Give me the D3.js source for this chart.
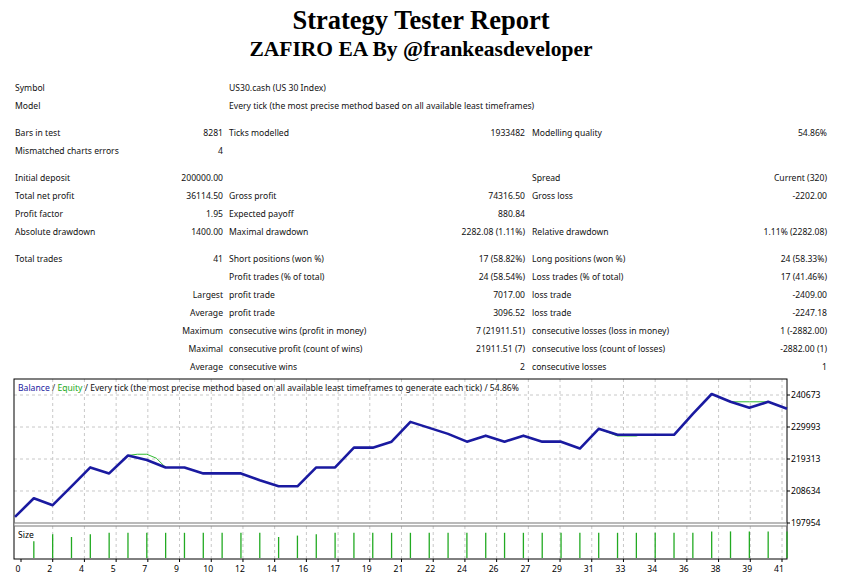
<!DOCTYPE html>
<html><head><meta charset="utf-8">
<script src="https://cdn.jsdelivr.net/npm/d3@7"></script>
<style>body{margin:0;background:#fff}</style>
</head><body>
<svg id="c" width="844" height="582"></svg>
<script>
// report rows: [y, label1, value1, label2, value2, label3, value3]
const reportRows = [
  [88, "Symbol", "", "US30.cash (US 30 Index)", "", "", ""],
  [106, "Model", "", "Every tick (the most precise method based on all available least timeframes)", "", "", ""],
  [133, "Bars in test", "8281", "Ticks modelled", "1933482", "Modelling quality", "54.86%"],
  [151, "Mismatched charts errors", "4", "", "", "", ""],
  [178, "Initial deposit", "200000.00", "", "", "Spread", "Current (320)"],
  [196, "Total net profit", "36114.50", "Gross profit", "74316.50", "Gross loss", "-2202.00"],
  [214, "Profit factor", "1.95", "Expected payoff", "880.84", "", ""],
  [232, "Absolute drawdown", "1400.00", "Maximal drawdown", "2282.08 (1.11%)", "Relative drawdown", "1.11% (2282.08)"],
  [259, "Total trades", "41", "Short positions (won %)", "17 (58.82%)", "Long positions (won %)", "24 (58.33%)"],
  [277, "", "", "Profit trades (% of total)", "24 (58.54%)", "Loss trades (% of total)", "17 (41.46%)"],
  [295, "", "Largest", "profit trade", "7017.00", "loss trade", "-2409.00"],
  [313, "", "Average", "profit trade", "3096.52", "loss trade", "-2247.18"],
  [331, "", "Maximum", "consecutive wins (profit in money)", "7 (21911.51)", "consecutive losses (loss in money)", "1 (-2882.00)"],
  [349, "", "Maximal", "consecutive profit (count of wins)", "21911.51 (7)", "consecutive loss (count of losses)", "-2882.00 (1)"],
  [367, "", "Average", "consecutive wins", "2", "consecutive losses", "1"]
];

// balance after each trade (0 = initial deposit)
const balance = [200000, 206200, 203900, 210200, 216500, 214500, 220500, 219000, 216500, 216500,
  214500, 214500, 214500, 212200, 210200, 210200, 216500, 216500, 223100, 223100,
  225100, 231700, 229700, 227700, 225100, 227100, 225100, 227100, 225100, 225100,
  222800, 229400, 227400, 227400, 227400, 227400, 234400, 241000, 238400, 236400,
  238400, 236114.5];
// equity where it differs from balance: [trade position, value]
const equity = [[6, 220500], [6.5, 220900], [7, 220900], [7.5, 219600], [8, 216500],
  [31, 229400], [32, 227000], [33, 227000], [33.2, 227400],
  [37, 241000], [38, 238400], [39, 238400], [40, 238400], [41, 236114.5]];
// lot sizes per trade 1..41
const sizes = [0.6, 0.85, 0.75, 0.85, 0.9, 0.9, 0.9, 0.9, 0.9, 0.9, 0.9, 0.9, 0.9, 0.75, 0.8, 0.85,
  0.9, 0.9, 0.9, 0.9, 0.9, 0.9, 0.9, 0.9, 0.9, 0.9, 0.9, 0.9, 0.9, 0.9, 0.9, 0.9, 0.9, 0.9, 0.9,
  0.9, 0.95, 0.95, 0.95, 0.95, 0.95];
const yTicks = [197954, 208634, 219313, 229993, 240673];
const xLabels = [0, 2, 4, 5, 7, 9, 10, 12, 14, 16, 17, 19, 21, 22, 24, 26, 27, 29, 31, 33, 34, 36, 38, 39, 41];

const svg = d3.select("#c");

svg.append("text").attr("x", 421).attr("y", 29).attr("text-anchor", "middle")
  .style("font", "bold 26.5px 'Liberation Serif', serif").text("Strategy Tester Report");
svg.append("text").attr("x", 421).attr("y", 56).attr("text-anchor", "middle")
  .style("font", "bold 21.5px 'Liberation Serif', serif").text("ZAFIRO EA By @frankeasdeveloper");

const cols = [[15, "start"], [223, "end"], [229, "start"], [525, "end"], [532, "start"], [827, "end"]];
reportRows.forEach(r => {
  cols.forEach(([x, a], i) => {
    if (!r[i + 1]) return;
    svg.append("text").attr("x", x).attr("y", r[0] + 3).attr("text-anchor", a)
      .style("font-family", "'Noto Sans', sans-serif").style("font-size", "8.6px").attr("fill", "#111")
      .text(r[i + 1]);
  });
});

// chart
const L = 14, R = 787, T = 379, B = 523;
const x = d3.scaleLinear().domain([0, 41]).range([L + 1, R]);
const y = d3.scaleLinear().domain([197954, 240673]).range([B, 395]);
const xl = d3.scaleLinear().domain([0, xLabels.length - 1]).range([18, 779]);

const grid = svg.append("g").attr("stroke", "#c8c8c8").attr("stroke-dasharray", "3,3");
yTicks.slice(1).forEach(v => grid.append("line").attr("x1", L).attr("x2", R).attr("y1", y(v)).attr("y2", y(v)));
xLabels.forEach((d, i) => {
  if (i === 0) return;
  grid.append("line").attr("x1", xl(i) + 3).attr("x2", xl(i) + 3).attr("y1", T).attr("y2", B);
  grid.append("line").attr("x1", xl(i) + 3).attr("x2", xl(i) + 3).attr("y1", 526).attr("y2", 559);
});

svg.append("rect").attr("x", L).attr("y", T).attr("width", R - L).attr("height", 559 - T)
  .attr("fill", "none").attr("stroke", "#000");
svg.append("rect").attr("x", L).attr("y", B).attr("width", R - L).attr("height", 3)
  .attr("fill", "#fff").attr("stroke", "#777");

const line = d3.line().x(d => x(d[0])).y(d => y(d[1]));
[equity.slice(0, 5), equity.slice(5, 9), equity.slice(9)].forEach(seg =>
  svg.append("path").datum(seg).attr("d", line).attr("fill", "none").attr("stroke", "#33bb33").attr("stroke-width", 1));
svg.append("path").datum(balance.map((v, i) => [i, v])).attr("d", line)
  .attr("fill", "none").attr("stroke", "#1a1aa0").attr("stroke-width", 2.6).attr("stroke-linejoin", "round");

const ys = d3.scaleLinear().domain([0, 1]).range([558, 530]);
svg.append("g").selectAll("line").data(sizes).join("line")
  .attr("x1", (d, i) => x(i + 1)).attr("x2", (d, i) => x(i + 1))
  .attr("y1", 558).attr("y2", d => ys(d)).attr("stroke", "#22aa22").attr("stroke-width", 1.3);

svg.append("text").attr("x", 18).attr("y", 538).style("font", "8.6px 'Noto Sans', sans-serif").text("Size");

// legend
const lg = svg.append("text").attr("x", 18).attr("y", 391).style("font", "8.6px 'Noto Sans', sans-serif");
lg.append("tspan").attr("fill", "#1a1aa0").text("Balance");
lg.append("tspan").attr("fill", "#333").text(" / ");
lg.append("tspan").attr("fill", "#22aa22").text("Equity");
lg.append("tspan").attr("fill", "#111").text(" / Every tick (the most precise method based on all available least timeframes to generate each tick) / 54.86%");

// y axis labels
svg.append("g").selectAll("text").data(yTicks).join("text")
  .attr("x", 791).attr("y", d => y(d) + 3).style("font", "8.6px 'Noto Sans', sans-serif").text(d => d);
svg.append("g").selectAll("line").data(yTicks).join("line")
  .attr("x1", R).attr("x2", R + 3).attr("y1", d => y(d)).attr("y2", d => y(d)).attr("stroke", "#000");

// x axis labels
svg.append("g").selectAll("text").data(xLabels).join("text")
  .attr("x", (d, i) => xl(i)).attr("y", 572).attr("text-anchor", "middle")
  .style("font", "8.6px 'Noto Sans', sans-serif").text(d => d);
svg.append("g").selectAll("line").data(xLabels).join("line")
  .attr("x1", (d, i) => xl(i) + 3).attr("x2", (d, i) => xl(i) + 3).attr("y1", 559).attr("y2", 562).attr("stroke", "#000");
</script>
</body></html>
